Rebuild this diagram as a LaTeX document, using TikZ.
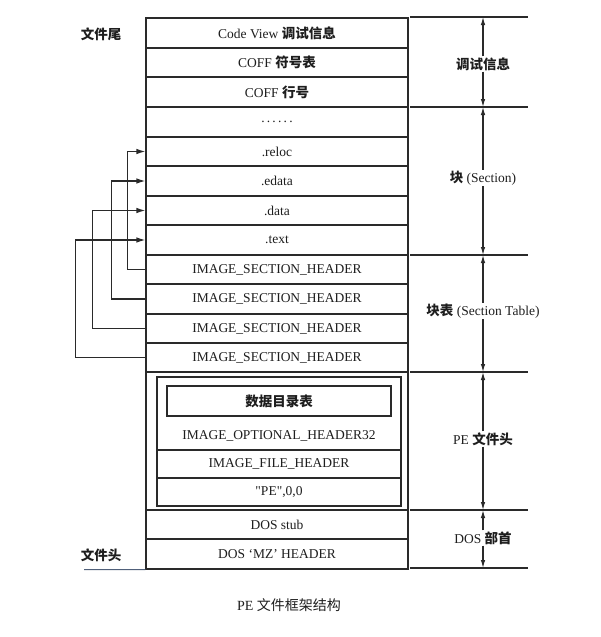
\documentclass[tikz,border=0pt]{standalone}
\usepackage{fontspec}
\setmainfont{Liberation Serif}
\newfontfamily\rawserif{Liberation Serif}
\newfontfamily\cjk{Noto Sans CJK SC}
\usetikzlibrary{arrows.meta}
\definecolor{ink}{HTML}{1E1E1E}
\definecolor{edge}{HTML}{2A2A2A}
\tikzset{
  row/.style={draw=edge, line width=1.2pt, minimum width=262pt, inner sep=0pt, font=\fontsize{13.5}{15}\selectfont, text=ink},
  inbox/.style={draw=edge, line width=1.2pt, inner sep=0pt, font=\fontsize{13.5}{15}\selectfont, text=ink},
  plain/.style={inner sep=0pt, font=\fontsize{13.5}{15}\selectfont, text=ink},
  side/.style={inner sep=1pt, font=\fontsize{13.5}{15}\selectfont, text=ink, fill=white},
  conn/.style={draw=edge, line width=1.2pt, -{Latex[length=9pt,width=5.5pt]}},
  dimline/.style={draw=edge, line width=1.2pt},
  dim/.style={draw=edge, line width=1.1pt, -{Latex[length=8pt,width=4.5pt]}},
}
\begin{document}
\begin{tikzpicture}[x=1pt,y=-1pt]
\useasboundingbox (0,0) rectangle (600,637);
\fill[white] (0,0) rectangle (600,637);
% main column
\node[row, minimum height=30pt] (r1) at (277,33) {Code View {\cjk\bfseries 调试信息}};
\node[row, minimum height=29pt] (r2) at (277,62.5) {COFF {\cjk\bfseries 符号表}};
\node[row, minimum height=30pt] (r3) at (277,92) {COFF {\cjk\bfseries 行号}};
\node[row, minimum height=30pt] (r4) at (277,122) {\raisebox{-2pt}{.\,.\,.\,.\,.\,.}};
\node[row, minimum height=29pt] (s1) at (277,151.5) {.reloc};
\node[row, minimum height=30pt] (s2) at (277,181) {.edata};
\node[row, minimum height=29pt] (s3) at (277,210.5) {.data};
\node[row, minimum height=30pt] (s4) at (277,240) {.text};
\node[row, minimum height=29pt] (h1) at (277,269.5) {IMAGE\_SECTION\_HEADER};
\node[row, minimum height=30pt] (h2) at (277,299) {IMAGE\_SECTION\_HEADER};
\node[row, minimum height=29pt] (h3) at (277,328.5) {IMAGE\_SECTION\_HEADER};
\node[row, minimum height=29pt] (h4) at (277,357.5) {IMAGE\_SECTION\_HEADER};
\node[row, minimum height=138pt] (pe) at (277,441) {};
\node[row, minimum height=29pt] (stub) at (277,524.5) {DOS stub};
\node[row, minimum height=30pt] (mz) at (277,554) {DOS ‘MZ’ HEADER};
% PE header inner block
\node[inbox, minimum width=244pt, minimum height=129pt] (pein) at (279,441.5) {};
\node[inbox, minimum width=224pt, minimum height=30pt] (dd) at (279,401) {{\cjk\bfseries 数据目录表}};
\node[plain] (opt) at (279,436) {IMAGE\_OPTIONAL\_HEADER32};
\node[inbox, minimum width=244pt, minimum height=28pt] (fh) at (279,464) {IMAGE\_FILE\_HEADER};
\node[plain] (sig) at (279,492) {{\rawserif "PE"},0,0};
% left labels
\node[side, fill=none] (tail) at (101,34) {\cjk\bfseries 文件尾};
\node[side, fill=none] (head) at (101,555) {\cjk\bfseries 文件头};
\coordinate (bl) at (84,569.5);
\draw[draw={rgb,255:red,80;green,96;blue,122}, line width=1pt] (bl) -- (mz.south west);
% connectors
\draw[conn] (h1.west) -- ++(-18,0) |- (s1.west);
\draw[conn] (h2.west) -- ++(-34,0) |- (s2.west);
\draw[conn] (h3.west) -- ++(-53,0) |- (s3.west);
\draw[conn] (h4.west) -- ++(-70,0) |- (s4.west);
% right dimension lines
\foreach \n/\y in {b0/17,b1/107,b2/255,b3/372,b4/510,b5/568} {
  \coordinate (\n l) at (410,\y);
  \coordinate (\n r) at (528,\y);
  \coordinate (\n m) at (483,\y);
  \draw[dimline] (\n l) -- (\n r);
}
\node[side] (d1) at (483,64) {\cjk\bfseries 调试信息};
\node[side] (d2) at (483,178) {{\cjk\bfseries 块} (Section)};
\node[side] (d3) at (483,311) {{\cjk\bfseries 块表} (Section Table)};
\node[side] (d4) at (483,439) {PE {\cjk\bfseries 文件头}};
\node[side] (d5) at (483,538) {DOS {\cjk\bfseries 部首}};
\draw[dim] (d1.north) -- (b0m); \draw[dim] (d1.south) -- (b1m);
\draw[dim] (d2.north) -- (b1m); \draw[dim] (d2.south) -- (b2m);
\draw[dim] (d3.north) -- (b2m); \draw[dim] (d3.south) -- (b3m);
\draw[dim] (d4.north) -- (b3m); \draw[dim] (d4.south) -- (b4m);
\draw[dim] (d5.north) -- (b4m); \draw[dim] (d5.south) -- (b5m);
% caption
\node[inner sep=0pt, font=\fontsize{14}{16}\selectfont, text=ink] (cap) at (289,605) {PE {\cjk 文件框架结构}};
\end{tikzpicture}
\end{document}
